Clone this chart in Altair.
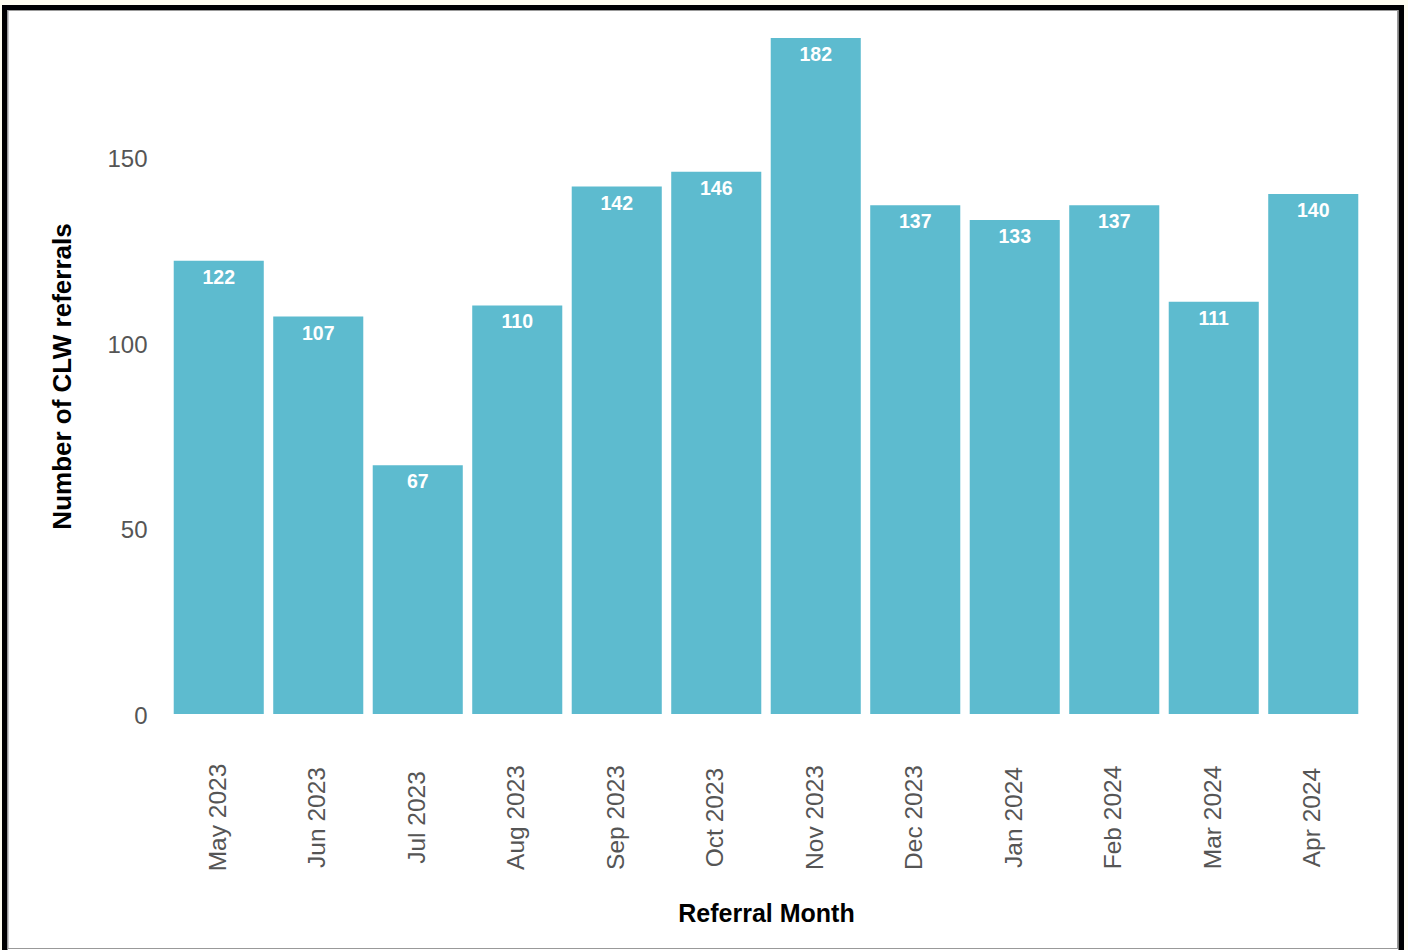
import altair as alt
import pandas as pd

months = ["May 2023", "Jun 2023", "Jul 2023", "Aug 2023", "Sep 2023", "Oct 2023",
          "Nov 2023", "Dec 2023", "Jan 2024", "Feb 2024", "Mar 2024", "Apr 2024"]
referrals = [122, 107, 67, 110, 142, 146, 182, 137, 133, 137, 111, 140]

df = pd.DataFrame({"month": months, "referrals": referrals})

FONT = "Liberation Sans"
BAR = "#5DBBCF"

W, H = 1194, 676
LEFT, TOP = 169, 38

x_enc = alt.X("month:N", sort=months,
              scale=alt.Scale(paddingInner=0.095, paddingOuter=0.0475),
              axis=alt.Axis(title="Referral Month", labelAngle=270, labelAlign="center",
                            labelBaseline="middle", labelPadding=103, ticks=False,
                            domain=False, labelFontSize=24.5, labelColor="#555555",
                            labelFont=FONT, titleFont=FONT, titleFontSize=25,
                            titleFontWeight="bold", titleColor="#000000",
                            titleY=199, titleBaseline="middle", zindex=1))
y_enc = alt.Y("referrals:Q",
              scale=alt.Scale(domain=[0, 182], nice=False),
              axis=alt.Axis(title="Number of CLW referrals", values=[0, 50, 100, 150],
                            ticks=False, domain=False, grid=False, labelPadding=22,
                            labelOffset=2.5,
                            labelFontSize=24, labelColor="#555555", labelFont=FONT,
                            titleFont=FONT, titleFontSize=26, titleFontWeight="bold",
                            titleColor="#000000", titleX=-107, titleBaseline="middle",
                            zindex=1))

frame = alt.Chart(df).mark_rect(fill="white", stroke="black", strokeWidth=5).encode(
    x=alt.value(5 - LEFT), x2=alt.value(1401 - LEFT),
    y=alt.value(7.5 - TOP), y2=alt.value(1000 - TOP))
inner = alt.Chart(df).mark_rect(fill="white", stroke="#999999", strokeWidth=1).encode(
    x=alt.value(8 - LEFT), x2=alt.value(1397.5 - LEFT),
    y=alt.value(10.5 - TOP), y2=alt.value(948.5 - TOP))

bars = alt.Chart(df).mark_bar(color=BAR).encode(x=x_enc, y=y_enc)
labels = alt.Chart(df).mark_text(color="white", fontWeight="bold", fontSize=19.5, font=FONT,
                                 baseline="middle", dy=17).encode(
    x=alt.X("month:N", sort=months), y="referrals:Q", text="referrals:Q")

chart = alt.layer(frame, inner, bars, labels).properties(
    width=W, height=H,
    autosize=alt.AutoSizeParams(type="none"),
    padding={"left": LEFT, "top": TOP, "right": 1408 - LEFT - W, "bottom": 950 - TOP - H},
    background="#FFFDF0",
).configure_view(strokeWidth=0)

chart.save("out.html", embed_options={"renderer": "svg", "actions": False})
